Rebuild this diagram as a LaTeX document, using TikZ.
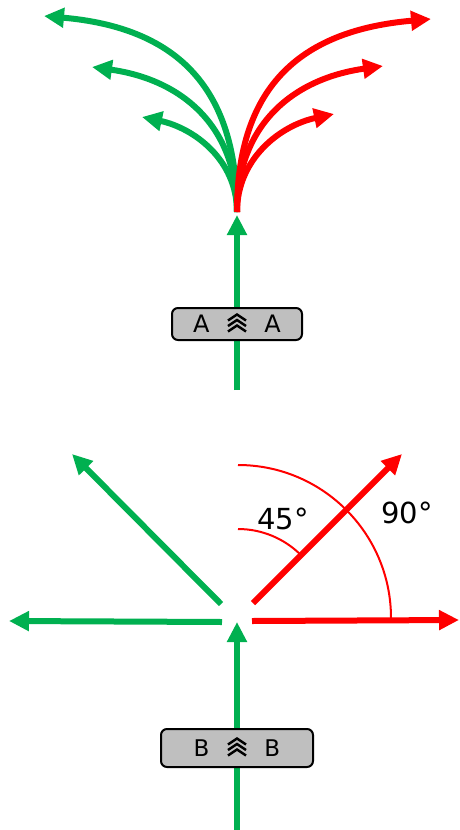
\documentclass[tikz,border=0pt]{standalone}
\usepackage{fontspec}
\setmainfont{DejaVu Sans}
\usetikzlibrary{arrows.meta, positioning}
\definecolor{leafgreen}{RGB}{0, 176, 80}
\definecolor{signalred}{RGB}{255, 0, 0}
\definecolor{tagfill}{RGB}{191, 191, 191}

% three stacked up-chevrons at a named node
\newcommand{\upchevrons}[1]{%
  \foreach \k in {0,1,2}
    \draw[chev, shift={(#1.center)}] (-9,{-3.5+5.5*\k}) -- (0,{-9.5+5.5*\k}) -- (9,{-3.5+5.5*\k});%
}

\begin{document}
\begin{tikzpicture}[
    x=1pt, y=-1pt,
    tag/.style={draw=black, line width=2pt, fill=tagfill, rounded corners=6pt, inner sep=0pt, align=center},
    chev/.style={black, line width=2.4pt},
    garrow/.style={-{Triangle[length=20pt, width=19pt]}, line width=6pt, leafgreen},
    rarrow/.style={-{Triangle[length=20pt, width=19pt]}, line width=6pt, signalred},
    angarc/.style={signalred, line width=2pt},
    deg/.style={font=\fontsize{29}{32}\selectfont}
  ]
  \useasboundingbox (0,0) rectangle (459,830);

  % upper picture: fork of curved paths
  \coordinate (aIn) at (237,390);
  \coordinate (aTip) at (237,215);
  \coordinate (aFork) at (237,212);
  \coordinate (gOut) at (44,16);
  \coordinate (gMid) at (92,67);
  \coordinate (gIn) at (142,117);
  \coordinate (rOut) at (431,19);
  \coordinate (rMid) at (383,66);
  \coordinate (rIn) at (334,114);

  \draw[garrow] (aIn) -- (aTip);
  \draw[garrow] (aFork) to[out=90, in=-5, looseness=1.2] (gOut);
  \draw[garrow] (aFork) to[out=90, in=-8, looseness=1.1] (gMid);
  \draw[garrow] (aFork) to[out=90, in=-12] (gIn);
  \draw[rarrow] (aFork) to[out=90, in=185, looseness=1.2] (rOut);
  \draw[rarrow] (aFork) to[out=90, in=188, looseness=1.1] (rMid);
  \draw[rarrow] (aFork) to[out=90, in=192] (rIn);

  \node[tag, minimum width=130pt, minimum height=32pt, font=\fontsize{24}{26}\selectfont] (tagA) at (237,324) {A\hspace{55pt}A};
  \upchevrons{tagA}

  % lower picture: straight turns with angles
  \coordinate (bIn) at (237,830);
  \coordinate (bTip) at (237,622);
  \coordinate (bO) at (238,618);
  \coordinate (gDiagS) at (221,604);
  \coordinate (gDiagE) at (72,454);
  \coordinate (gLeftS) at (222,622);
  \coordinate (gLeftE) at (9,621);
  \coordinate (rDiagS) at (253,603);
  \coordinate (rDiagE) at (402,454);
  \coordinate (rRightS) at (252,621);
  \coordinate (rRightE) at (459,620);

  \draw[garrow] (bIn) -- (bTip);
  \draw[garrow] (gDiagS) -- (gDiagE);
  \draw[garrow] (gLeftS) -- (gLeftE);
  \draw[rarrow] (rDiagS) -- (rDiagE);
  \draw[rarrow] (rRightS) -- (rRightE);

  \draw[angarc] (bO) ++(-90:153) arc[start angle=-90, end angle=0, radius=153];
  \draw[angarc] (bO) ++(-90:89) arc[start angle=-90, end angle=-45, radius=89];
  \node[deg] (deg45) at (283,519) {45°};
  \node[deg] (deg90) at (407,513) {90°};

  \node[tag, minimum width=152pt, minimum height=38pt, font=\fontsize{23}{26}\selectfont] (tagB) at (237,748) {B\hspace{55pt}B};
  \upchevrons{tagB}
\end{tikzpicture}
\end{document}
